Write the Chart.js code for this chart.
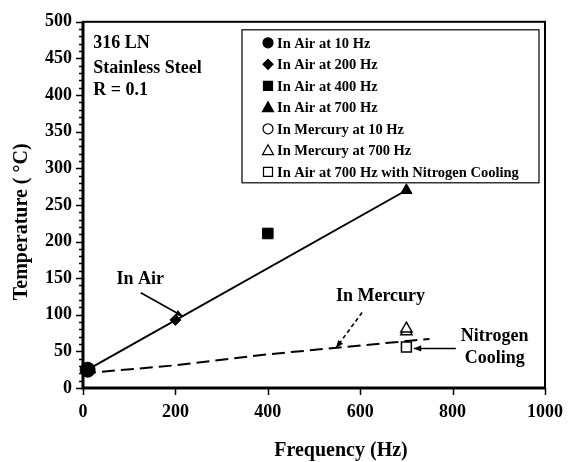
<!DOCTYPE html>
<html>
<head>
<meta charset="utf-8">
<script src="https://cdn.jsdelivr.net/npm/chart.js@4"></script>
<style>
  html, body { margin: 0; padding: 0; background: #fff; }
  #wrap { width: 577px; height: 462px; }
</style>
</head>
<body>
<div id="wrap"><canvas id="tempChart" width="577" height="462"></canvas></div>
<script>
// data: [frequency Hz, temperature C]
const air10Hz = [[10, 25]];
const air200Hz = [[200, 93]];
const air400Hz = [[400, 211]];
const air700Hz = [[700, 270]];
const mercury10Hz = [[10, 25]];
const mercury700Hz = [[700, 77], [700, 81]];
const nitrogen700Hz = [[700, 56]];

// trend lines
const airTrend = [[10, 25], [700, 270]];
const mercuryTrend = [[0, 20], [200, 31], [400, 46], [550, 55], [750, 67]];

const seriesLabels = [
    'In Air at 10 Hz',
    'In Air at 200 Hz',
    'In Air at 400 Hz',
    'In Air at 700 Hz',
    'In Mercury at 10 Hz',
    'In Mercury at 700 Hz',
    'In Air at 700 Hz with Nitrogen Cooling'
];

const xTickValues = [0, 200, 400, 600, 800, 1000];
const yTickValues = [0, 50, 100, 150, 200, 250, 300, 350, 400, 450, 500];

const xTitle = 'Frequency (Hz)';
const yTitle = 'Temperature ( °C)';

const FONT = "'Liberation Serif', 'Times New Roman', serif";

const toPts = arr => arr.map(([x, y]) => ({ x, y }));

// marker dataset helper
function markers(label, pts, style, radius, filled) {
    return {
        type: 'scatter',
        label,
        data: toPts(pts),
        pointStyle: style,
        pointRadius: radius,
        pointHoverRadius: radius,
        pointBackgroundColor: filled ? '#000' : '#fff',
        pointBorderColor: '#000',
        pointBorderWidth: filled ? 1 : 1.5,
        clip: false
    };
}

const datasets = [
    markers(seriesLabels[0], air10Hz, 'circle', 7.5, true),
    markers(seriesLabels[1], air200Hz, 'rectRot', 5.5, true),
    markers(seriesLabels[2], air400Hz, 'rect', 7.5, true),
    markers(seriesLabels[3], air700Hz, 'triangle', 6.5, true),
    markers(seriesLabels[4], mercury10Hz, 'circle', 5, false),
    markers(seriesLabels[5], mercury700Hz, 'triangle', 6.5, false),
    markers(seriesLabels[6], nitrogen700Hz, 'rect', 7, false),
    {
        type: 'line',
        label: 'air fit',
        data: toPts(airTrend),
        borderColor: '#000',
        borderWidth: 2,
        pointRadius: 0,
        fill: false
    },
    {
        type: 'line',
        label: 'mercury fit',
        data: toPts(mercuryTrend),
        borderColor: '#000',
        borderWidth: 2,
        borderDash: [13, 6],
        pointRadius: 0,
        fill: false
    }
];

// text callouts in data coords, arrows as [from, to]
const notes = [
    { text: '316 LN', x: 22, y: 470, align: 'left' },
    { text: 'Stainless Steel', x: 22, y: 437, align: 'left' },
    { text: 'R = 0.1', x: 22, y: 407, align: 'left' },
    { text: 'In Air', x: 124, y: 148, align: 'center' },
    { text: 'In Mercury', x: 644, y: 125, align: 'center' },
    { text: 'Nitrogen', x: 891, y: 70, align: 'center' },
    { text: 'Cooling', x: 891, y: 40, align: 'center' }
];
const arrows = [
    { from: [125, 130], to: [216, 98], dash: [] },
    { from: [604, 103], to: [548, 55], dash: [4, 3] },
    { from: [807, 54], to: [716, 54], dash: [] }
];

// simple marker drawing for the legend box
function drawMarker(ctx, style, x, y, r, filled) {
    ctx.save();
    ctx.fillStyle = filled ? '#000' : '#fff';
    ctx.strokeStyle = '#000';
    ctx.lineWidth = 1.2;
    ctx.beginPath();
    if (style === 'circle') {
        ctx.arc(x, y, r, 0, Math.PI * 2);
    } else if (style === 'rect') {
        ctx.rect(x - r, y - r, 2 * r, 2 * r);
    } else if (style === 'rectRot') {
        ctx.moveTo(x, y - r); ctx.lineTo(x + r, y); ctx.lineTo(x, y + r); ctx.lineTo(x - r, y);
        ctx.closePath();
    } else if (style === 'triangle') {
        ctx.moveTo(x, y - r); ctx.lineTo(x + r, y + r * 0.8); ctx.lineTo(x - r, y + r * 0.8);
        ctx.closePath();
    }
    ctx.fill();
    ctx.stroke();
    ctx.restore();
}

const framePlugin = {
    id: 'frameAndTicks',
    afterDatasetsDraw(chart) {
        const ctx = chart.ctx;
        const { left, right, top, bottom } = chart.chartArea;
        const xs = chart.scales.x, ys = chart.scales.y;
        ctx.save();
        ctx.strokeStyle = '#000';
        // box
        ctx.lineWidth = 2;
        ctx.strokeRect(left, top, right - left, bottom - top);
        // heavier axes
        ctx.lineWidth = 3;
        ctx.beginPath();
        ctx.moveTo(left, top); ctx.lineTo(left, bottom); ctx.lineTo(right, bottom);
        ctx.stroke();
        // y ticks, minor every 10
        ctx.lineWidth = 1.5;
        ctx.beginPath();
        for (let v = 0; v <= 500; v += 10) {
            const py = Math.round(ys.getPixelForValue(v)) + 0.5;
            const len = v % 50 === 0 ? 7 : 4;
            ctx.moveTo(left - len, py); ctx.lineTo(left, py);
        }
        // x ticks
        xTickValues.forEach(v => {
            const px = Math.round(xs.getPixelForValue(v)) + 0.5;
            ctx.moveTo(px, bottom); ctx.lineTo(px, bottom + 7);
        });
        ctx.stroke();
        ctx.restore();
    },
    afterDraw(chart) {
        const ctx = chart.ctx;
        const xs = chart.scales.x, ys = chart.scales.y;
        const area = chart.chartArea;

        ctx.save();
        ctx.fillStyle = '#000';

        // axis titles (placed to match the figure, which sits a bit off-centre)
        ctx.font = `bold 20px ${FONT}`;
        ctx.textAlign = 'center';
        ctx.textBaseline = 'middle';
        ctx.fillText(xTitle, area.left + 258, 451);
        ctx.save();
        ctx.translate(22, area.top + 200);
        ctx.rotate(-Math.PI / 2);
        ctx.fillText(yTitle, 0, 0);
        ctx.restore();

        // legend box
        const lx = area.left + 159, ly = area.top + 8, lw = 297, lh = 153;
        ctx.fillStyle = '#fff';
        ctx.fillRect(lx, ly, lw, lh);
        ctx.strokeStyle = '#000';
        ctx.lineWidth = 1.2;
        ctx.strokeRect(lx, ly, lw, lh);
        ctx.font = `bold 14.5px ${FONT}`;
        ctx.textBaseline = 'middle';
        const sizes = [5, 5, 4.5, 5.5, 5, 5.5, 4.5];
        seriesLabels.forEach((lab, i) => {
            const ds = chart.data.datasets[i];
            const y = ly + 13 + i * 21.5;
            const filled = ds.pointBackgroundColor === '#000';
            drawMarker(ctx, ds.pointStyle, lx + 26, y, sizes[i], filled);
            ctx.fillStyle = '#000';
            ctx.textAlign = 'left';
            ctx.fillText(lab, lx + 35, y + 1);
        });

        // callout text
        ctx.font = `bold 18px ${FONT}`;
        notes.forEach(n => {
            ctx.textAlign = n.align;
            ctx.fillText(n.text, xs.getPixelForValue(n.x), ys.getPixelForValue(n.y));
        });

        // arrows
        ctx.lineWidth = 1.6;
        arrows.forEach(a => {
            const x1 = xs.getPixelForValue(a.from[0]), y1 = ys.getPixelForValue(a.from[1]);
            const x2 = xs.getPixelForValue(a.to[0]), y2 = ys.getPixelForValue(a.to[1]);
            ctx.setLineDash(a.dash);
            ctx.beginPath();
            ctx.moveTo(x1, y1); ctx.lineTo(x2, y2);
            ctx.stroke();
            ctx.setLineDash([]);
            const ang = Math.atan2(y2 - y1, x2 - x1);
            const hl = 8, hw = 0.4;
            ctx.beginPath();
            ctx.moveTo(x2, y2);
            ctx.lineTo(x2 - hl * Math.cos(ang - hw), y2 - hl * Math.sin(ang - hw));
            ctx.lineTo(x2 - hl * Math.cos(ang + hw), y2 - hl * Math.sin(ang + hw));
            ctx.closePath();
            ctx.fill();
        });
        ctx.restore();
    }
};

const ctx = document.getElementById('tempChart').getContext('2d');
new Chart(ctx, {
    type: 'scatter',
    data: { datasets },
    options: {
        responsive: false,
        animation: false,
        layout: { padding: { top: 14, right: 31, left: 0, bottom: 0 } },
        scales: {
            x: {
                type: 'linear',
                min: 0,
                max: 1000,
                afterFit: s => { s.height = 74; },
                afterBuildTicks: s => { s.ticks = xTickValues.map(v => ({ value: v })); },
                grid: { display: false, drawTicks: false },
                border: { display: false },
                ticks: {
                    padding: 14,
                    color: '#000',
                    callback: v => String(v),
                    font: { family: FONT, size: 18, weight: 'bold' }
                }
            },
            y: {
                type: 'linear',
                min: 0,
                max: 500,
                afterFit: s => { s.width = 83; },
                afterBuildTicks: s => { s.ticks = yTickValues.map(v => ({ value: v })); },
                grid: { display: false, drawTicks: false },
                border: { display: false },
                ticks: {
                    padding: 11,
                    color: '#000',
                    callback: v => String(v),
                    font: { family: FONT, size: 18, weight: 'bold' }
                }
            }
        },
        plugins: {
            legend: { display: false },
            tooltip: { enabled: false }
        }
    },
    plugins: [framePlugin]
});
</script>
</body>
</html>
